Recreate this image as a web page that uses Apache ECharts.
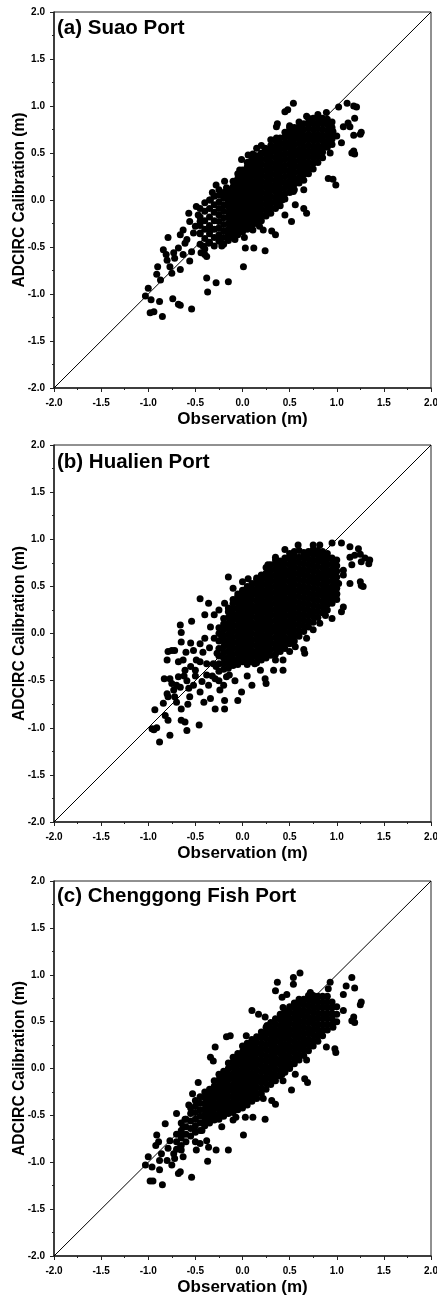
<!DOCTYPE html>
<html>
<head>
<meta charset="utf-8">
<title>ADCIRC calibration scatter</title>
<script src="https://cdn.jsdelivr.net/npm/echarts@6/dist/echarts.min.js"></script>
<style>
html, body { margin: 0; padding: 0; background: #fff; }
#main { width: 437px; height: 1297px; }
</style>
</head>
<body>
<div id="main"></div>
<script>
// axis ticks shared by all three panels
var tickMin = -2.0, tickMax = 2.0, tickStep = 0.5;
var panelTitles = ['(a) Suao Port', '(b) Hualien Port', '(c) Chenggong Fish Port'];
var xTitle = 'Observation (m)';
var yTitle = 'ADCIRC Calibration (m)';

// (a) Suao -- loose points [obs, calib]
var suaoScatter = [
  [-1.00,-0.94],[-1.03,-1.02],[-0.97,-1.06],[-0.98,-1.20],[-0.94,-1.19],[-0.85,-1.24],[-0.88,-1.08],[-0.91,-0.79],
  [-0.90,-0.71],[-0.87,-0.85],[-0.84,-0.53],[-0.81,-0.58],[-0.80,-0.64],[-0.79,-0.40],[-0.77,-0.71],[-0.75,-0.78],
  [-0.73,-0.56],[-0.72,-0.62],[-0.68,-0.51],[-0.66,-0.37],[-0.66,-0.74],[-0.63,-0.58],[-0.63,-0.32],[-0.61,-0.46],
  [-0.59,-0.42],[-0.57,-0.14],[-0.56,-0.23],[-0.56,-0.65],[-0.54,-0.55],[-0.52,-0.35],[-0.50,-0.28],[-0.49,-0.07],
  [-0.47,-0.16],[-0.45,-0.23],[-0.45,-0.35],[-0.44,-0.56],[-0.42,-0.49],[-0.40,-0.58],[-0.38,-0.60],[-0.36,-0.46],
  [-0.34,-0.32],[-0.34,0.00],[-0.32,0.08],[-0.28,0.16],[-0.24,-0.42],[-0.22,-0.49],[-0.19,0.20],[-0.17,0.13],
  [-0.13,0.07],[-0.10,-0.37],[-0.08,-0.42],[-0.03,0.32],[-0.01,0.43],[0.06,0.48],[0.11,0.49],[0.24,0.55],
  [0.22,-0.32],[0.11,-0.32],[0.31,-0.33],[0.35,-0.37],[0.03,-0.51],[0.12,-0.51],[0.24,-0.54],[0.01,-0.71],
  [-0.15,-0.87],[-0.38,-0.83],[-0.28,-0.88],[-0.37,-0.98],[-0.54,-1.16],[-0.68,-1.11],[-0.66,-1.12],[-0.74,-1.05],
  [0.45,-0.16],[0.52,-0.23],[0.56,-0.05],[0.65,-0.09],[0.68,-0.14],[0.42,0.00],[0.36,-0.03],
  [0.36,0.78],[0.37,0.81],[0.36,0.66],[0.45,0.94],[0.48,0.96],[0.54,1.03],[0.50,0.77],[0.57,0.71],
  [0.68,0.89],[0.80,0.91],[0.89,0.93],[1.02,0.99],[1.11,1.03],[1.18,1.00],[1.21,0.99],[1.19,0.87],
  [1.12,0.82],[1.07,0.78],[1.14,0.78],[1.26,0.72],[1.25,0.70],[1.18,0.69],[1.05,0.61],[1.16,0.50],
  [1.19,0.49],[1.18,0.52],[0.93,0.50],[0.91,0.23],[0.96,0.22],[0.99,0.16],[0.84,0.68],[0.96,0.73],
  [1.00,0.68],[0.88,0.57],[0.77,0.50],[0.65,0.39],[0.54,0.36],[0.65,0.11],[0.54,0.09],[0.36,0.14],[0.50,0.20],
  [0.15,0.55],[0.20,0.58],[0.30,0.64],[0.06,0.40],[-0.05,0.28],[-0.20,-0.47],[0.02,-0.40],[0.18,-0.28]
];
// (a) Suao -- dense band, one row per obs value: [obs, calib, calib, ...]
var suaoCore = [
  [-0.45,-0.47,-0.36,-0.27,-0.18,-0.09],
  [-0.40,-0.52,-0.41,-0.31,-0.22,-0.12,-0.03],
  [-0.35,-0.45,-0.36,-0.27,-0.18,-0.09,0.00],
  [-0.30,-0.49,-0.40,-0.31,-0.22,-0.13,-0.05,0.04],
  [-0.25,-0.44,-0.37,-0.30,-0.23,-0.16,-0.09,-0.02,0.05,0.11],
  [-0.20,-0.40,-0.33,-0.26,-0.19,-0.12,-0.05,0.02,0.08],
  [-0.15,-0.43,-0.37,-0.31,-0.25,-0.19,-0.13,-0.07,-0.01,0.05,0.11],
  [-0.10,-0.40,-0.34,-0.28,-0.22,-0.16,-0.10,-0.04,0.02,0.08,0.14,0.20],
  [-0.05,-0.37,-0.31,-0.25,-0.19,-0.13,-0.07,-0.01,0.05,0.11,0.17,0.23],
  [0.00,-0.34,-0.28,-0.22,-0.16,-0.10,-0.04,0.02,0.08,0.14,0.20,0.26,0.32],
  [0.05,-0.31,-0.25,-0.19,-0.13,-0.07,-0.01,0.05,0.11,0.17,0.23,0.29,0.35,0.40],
  [0.10,-0.28,-0.22,-0.16,-0.10,-0.04,0.02,0.08,0.14,0.20,0.26,0.32,0.38,0.44],
  [0.15,-0.25,-0.19,-0.13,-0.07,-0.01,0.05,0.11,0.17,0.23,0.29,0.35,0.41,0.47],
  [0.20,-0.22,-0.16,-0.10,-0.04,0.02,0.08,0.14,0.20,0.26,0.32,0.38,0.44,0.50],
  [0.25,-0.17,-0.11,-0.05,0.01,0.07,0.13,0.19,0.25,0.31,0.37,0.43,0.49,0.54],
  [0.30,-0.14,-0.08,-0.02,0.04,0.10,0.16,0.22,0.28,0.34,0.40,0.46,0.52,0.58],
  [0.35,-0.09,-0.03,0.03,0.09,0.15,0.21,0.27,0.33,0.39,0.45,0.51,0.57,0.63],
  [0.40,-0.06,0.00,0.06,0.12,0.18,0.24,0.30,0.36,0.42,0.48,0.54,0.60,0.66],
  [0.45,0.01,0.07,0.13,0.19,0.25,0.31,0.37,0.43,0.49,0.55,0.61,0.67,0.72],
  [0.50,0.08,0.14,0.20,0.26,0.32,0.38,0.44,0.50,0.56,0.62,0.68,0.74,0.79],
  [0.55,0.11,0.17,0.23,0.29,0.35,0.41,0.47,0.53,0.59,0.65,0.71,0.77],
  [0.60,0.18,0.24,0.30,0.36,0.42,0.48,0.54,0.60,0.66,0.72,0.78,0.83],
  [0.65,0.21,0.27,0.33,0.39,0.45,0.51,0.57,0.63,0.69,0.75,0.81],
  [0.70,0.28,0.34,0.40,0.46,0.52,0.58,0.64,0.70,0.76,0.82,0.87],
  [0.75,0.33,0.39,0.45,0.51,0.57,0.63,0.69,0.75,0.81,0.87],
  [0.80,0.40,0.46,0.52,0.58,0.64,0.70,0.76,0.82,0.88],
  [0.85,0.45,0.51,0.57,0.63,0.69,0.75,0.81,0.87],
  [0.90,0.56,0.62,0.68,0.74,0.80,0.86],
  [0.95,0.59,0.65,0.71,0.77,0.83]
];

// (b) Hualien -- loose points
var hualienScatter = [
  [-0.96,-1.01],[-0.94,-1.02],[-0.91,-1.00],[-0.88,-1.15],[-0.93,-0.81],[-0.84,-0.74],[-0.82,-0.87],[-0.77,-1.08],
  [-0.79,-0.92],[-0.83,-0.48],[-0.80,-0.64],[-0.79,-0.67],[-0.77,-0.48],[-0.75,-0.53],[-0.73,-0.60],[-0.72,-0.67],
  [-0.70,-0.73],[-0.80,-0.28],[-0.79,-0.19],[-0.75,-0.18],[-0.72,-0.18],[-0.68,-0.46],[-0.66,-0.57],[-0.65,-0.80],
  [-0.65,-0.92],[-0.61,-0.94],[-0.59,-1.03],[-0.46,-0.97],[-0.66,0.09],[-0.65,0.01],[-0.65,-0.09],[-0.63,-0.28],
  [-0.61,-0.39],[-0.59,-0.50],[-0.57,-0.58],[-0.56,-0.67],[-0.54,0.13],[-0.52,-0.18],[-0.50,-0.39],[-0.49,-0.28],
  [-0.45,0.37],[-0.45,-0.11],[-0.43,-0.51],[-0.41,-0.73],[-0.38,-0.44],[-0.36,0.32],[-0.34,-0.69],[-0.34,0.07],
  [-0.31,-0.32],[-0.29,-0.80],[-0.29,-0.48],[-0.27,-0.21],[-0.24,-0.60],[-0.22,-0.04],[-0.19,-0.80],[-0.19,-0.71],
  [-0.17,-0.46],[-0.15,0.60],[-0.19,0.32],[-0.13,0.23],[-0.05,-0.71],[-0.01,-0.62],[0.10,-0.55],[0.13,-0.32],
  [0.24,-0.48],[0.25,-0.53],[0.19,-0.39],[0.33,-0.39],[0.43,-0.39],[0.27,0.73],[0.06,0.58],[0.04,0.39],
  [0.15,0.57],[0.35,0.81],[0.45,0.89],[0.59,0.94],[0.70,0.87],[0.75,0.94],[0.82,0.94],[0.95,0.96],
  [1.05,0.96],[1.14,0.92],[1.23,0.90],[1.25,0.84],[1.19,0.83],[1.30,0.80],[1.35,0.78],[1.34,0.74],
  [1.26,0.76],[1.14,0.81],[1.16,0.73],[1.07,0.67],[1.07,0.62],[1.02,0.53],[1.14,0.53],[1.25,0.55],
  [1.26,0.51],[1.28,0.50],[1.07,0.28],[1.05,0.23],[0.95,0.16],[0.88,0.19],[0.82,0.11],[0.75,0.04],
  [0.68,-0.05],[0.65,-0.17],[0.66,-0.21],[0.56,-0.14],[0.50,-0.19],[0.43,-0.28],[0.35,-0.28],[1.00,0.42],[0.91,0.39],
  [-0.55,-0.35],[-0.50,-0.45],[-0.45,-0.30],[-0.42,-0.20],[-0.40,-0.05],[-0.38,-0.32],[-0.35,-0.15],[-0.32,-0.45],
  [-0.30,-0.05],[-0.28,-0.35],[-0.45,-0.62],[-0.60,-0.20],[-0.58,-0.75],[-0.52,-0.55],[-0.68,-0.30],[-0.70,-0.55],
  [-0.62,-0.45],[-0.36,-0.55],[-0.25,-0.50],[-0.20,-0.55],[-0.14,-0.44],[-0.08,-0.50],[0.05,-0.45],[-0.30,0.20],
  [-0.25,0.25],[-0.10,0.48],[0.00,0.55],[-0.55,-0.10],[-0.40,0.20]
];
// (b) Hualien -- dense cloud
var hualienCore = [
  [-0.25,-0.40,-0.32,-0.24,-0.16,-0.08,0.00,0.06],
  [-0.20,-0.38,-0.32,-0.26,-0.20,-0.14,-0.08,-0.02,0.04,0.10,0.16],
  [-0.15,-0.37,-0.31,-0.25,-0.19,-0.13,-0.07,-0.01,0.05,0.11,0.17,0.23,0.27],
  [-0.10,-0.34,-0.28,-0.22,-0.16,-0.10,-0.04,0.02,0.08,0.14,0.20,0.26,0.32,0.36],
  [-0.05,-0.33,-0.27,-0.21,-0.15,-0.09,-0.03,0.03,0.09,0.15,0.21,0.27,0.33,0.39,0.42],
  [0.00,-0.30,-0.24,-0.18,-0.12,-0.06,0.00,0.06,0.12,0.18,0.24,0.30,0.36,0.42,0.46],
  [0.05,-0.33,-0.27,-0.21,-0.15,-0.09,-0.03,0.03,0.09,0.15,0.21,0.27,0.33,0.39,0.45,0.50],
  [0.10,-0.30,-0.24,-0.18,-0.12,-0.06,0.00,0.06,0.12,0.18,0.24,0.30,0.36,0.42,0.48,0.53],
  [0.15,-0.31,-0.25,-0.19,-0.13,-0.07,-0.01,0.05,0.11,0.17,0.23,0.29,0.35,0.41,0.47,0.53,0.59],
  [0.20,-0.28,-0.22,-0.16,-0.10,-0.04,0.02,0.08,0.14,0.20,0.26,0.32,0.38,0.44,0.50,0.56,0.62],
  [0.25,-0.26,-0.20,-0.14,-0.08,-0.02,0.04,0.10,0.16,0.22,0.28,0.34,0.40,0.46,0.52,0.58,0.64,0.70],
  [0.30,-0.23,-0.17,-0.11,-0.05,0.01,0.07,0.13,0.19,0.25,0.31,0.37,0.43,0.49,0.55,0.61,0.67,0.73],
  [0.35,-0.22,-0.16,-0.10,-0.04,0.02,0.08,0.14,0.20,0.26,0.32,0.38,0.44,0.50,0.56,0.62,0.68,0.74,0.78],
  [0.40,-0.19,-0.13,-0.07,-0.01,0.05,0.11,0.17,0.23,0.29,0.35,0.41,0.47,0.53,0.59,0.65,0.71,0.77],
  [0.45,-0.16,-0.10,-0.04,0.02,0.08,0.14,0.20,0.26,0.32,0.38,0.44,0.50,0.56,0.62,0.68,0.74,0.80],
  [0.50,-0.11,-0.05,0.01,0.07,0.13,0.19,0.25,0.31,0.37,0.43,0.49,0.55,0.61,0.67,0.73,0.79,0.85],
  [0.55,-0.08,-0.02,0.04,0.10,0.16,0.22,0.28,0.34,0.40,0.46,0.52,0.58,0.64,0.70,0.76,0.82,0.87],
  [0.60,-0.03,0.03,0.09,0.15,0.21,0.27,0.33,0.39,0.45,0.51,0.57,0.63,0.69,0.75,0.81,0.88],
  [0.65,0.02,0.08,0.14,0.20,0.26,0.32,0.38,0.44,0.50,0.56,0.62,0.68,0.74,0.80,0.86],
  [0.70,0.07,0.13,0.19,0.25,0.31,0.37,0.43,0.49,0.55,0.61,0.67,0.73,0.79,0.85],
  [0.75,0.12,0.18,0.24,0.30,0.36,0.42,0.48,0.54,0.60,0.66,0.72,0.78,0.84,0.89],
  [0.80,0.17,0.23,0.29,0.35,0.41,0.47,0.53,0.59,0.65,0.71,0.77,0.83,0.88],
  [0.85,0.22,0.28,0.34,0.40,0.46,0.52,0.58,0.64,0.70,0.76,0.82,0.87],
  [0.90,0.25,0.31,0.37,0.43,0.49,0.55,0.61,0.67,0.73,0.79,0.85],
  [0.95,0.32,0.38,0.44,0.50,0.56,0.62,0.68,0.74,0.80],
  [1.00,0.36,0.42,0.48,0.54,0.60,0.66,0.72,0.78]
];

// (c) Chenggong -- loose points
var chenggongScatter = [
  [-1.03,-1.03],[-1.00,-0.94],[-0.96,-1.05],[-0.98,-1.20],[-0.95,-1.20],[-0.85,-1.24],[-0.88,-1.08],[-0.91,-0.71],
  [-0.89,-0.78],[-0.92,-0.82],[-0.86,-0.91],[-0.88,-0.98],[-0.82,-0.59],[-0.80,-0.98],[-0.79,-0.85],[-0.77,-0.77],
  [-0.75,-1.03],[-0.73,-0.91],[-0.72,-0.96],[-0.70,-0.48],[-0.68,-1.12],[-0.66,-1.10],[-0.66,-0.84],[-0.65,-0.87],
  [-0.63,-0.94],[-0.65,-0.71],[-0.63,-0.62],[-0.61,-0.54],[-0.57,-0.39],[-0.54,-1.16],[-0.53,-0.27],[-0.50,-0.78],
  [-0.49,-0.87],[-0.47,-0.15],[-0.45,-0.80],[-0.43,-0.66],[-0.41,-0.59],[-0.38,-0.77],[-0.36,-0.84],[-0.37,-0.99],
  [-0.34,0.12],[-0.31,0.08],[-0.29,0.23],[-0.28,-0.87],[-0.26,-0.52],[-0.22,-0.62],[-0.17,0.34],[-0.13,0.35],
  [-0.15,-0.87],[-0.10,-0.55],[-0.07,-0.52],[0.01,-0.71],[0.03,-0.52],[0.11,-0.52],[0.24,-0.54],[0.04,0.35],
  [0.10,0.62],[0.17,0.58],[0.12,0.28],[0.24,0.55],[0.26,0.46],[0.35,0.83],[0.37,0.92],[0.42,0.76],
  [0.47,0.79],[0.54,0.97],[0.61,1.02],[0.54,0.90],[0.43,0.65],[0.72,0.81],[0.77,0.76],[0.93,0.92],
  [0.91,0.85],[1.16,0.97],[1.10,0.88],[1.19,0.86],[1.26,0.71],[1.25,0.68],[1.07,0.79],[1.18,0.55],
  [1.19,0.49],[1.16,0.51],[1.07,0.62],[0.96,0.44],[0.89,0.23],[0.98,0.21],[0.99,0.17],[0.82,0.37],
  [0.65,0.28],[0.68,0.09],[0.66,-0.11],[0.69,-0.15],[0.52,-0.23],[0.56,-0.06],[0.43,-0.13],[0.35,-0.38],
  [0.31,-0.34],[0.22,-0.32],[0.42,-0.06],[0.50,0.01]
];
// (c) Chenggong -- dense band
var chenggongCore = [
  [-0.70,-0.86,-0.78,-0.70],
  [-0.65,-0.82,-0.74,-0.66,-0.58],
  [-0.60,-0.78,-0.70,-0.62,-0.54],
  [-0.55,-0.72,-0.64,-0.56,-0.48,-0.42],
  [-0.50,-0.68,-0.61,-0.54,-0.47,-0.40,-0.34],
  [-0.45,-0.66,-0.58,-0.51,-0.44,-0.37,-0.30],
  [-0.40,-0.61,-0.55,-0.49,-0.43,-0.37,-0.31,-0.25],
  [-0.35,-0.58,-0.52,-0.46,-0.40,-0.34,-0.28,-0.22],
  [-0.30,-0.55,-0.49,-0.43,-0.37,-0.31,-0.25,-0.19,-0.13],
  [-0.25,-0.54,-0.48,-0.42,-0.36,-0.30,-0.24,-0.18,-0.12,-0.06],
  [-0.20,-0.51,-0.45,-0.39,-0.33,-0.27,-0.21,-0.15,-0.09,-0.03],
  [-0.15,-0.48,-0.42,-0.36,-0.30,-0.24,-0.18,-0.12,-0.06,0.00,0.06],
  [-0.10,-0.47,-0.41,-0.35,-0.29,-0.23,-0.17,-0.11,-0.05,0.01,0.07,0.12],
  [-0.05,-0.44,-0.38,-0.32,-0.26,-0.20,-0.14,-0.08,-0.02,0.04,0.10,0.16],
  [0.00,-0.42,-0.36,-0.30,-0.24,-0.18,-0.12,-0.06,0.00,0.06,0.12,0.18,0.24],
  [0.05,-0.39,-0.33,-0.27,-0.21,-0.15,-0.09,-0.03,0.03,0.09,0.15,0.21,0.27],
  [0.10,-0.35,-0.29,-0.23,-0.17,-0.11,-0.05,0.01,0.07,0.13,0.19,0.25,0.31],
  [0.15,-0.32,-0.26,-0.20,-0.14,-0.08,-0.02,0.04,0.10,0.16,0.22,0.28,0.34],
  [0.20,-0.27,-0.21,-0.15,-0.09,-0.03,0.03,0.09,0.15,0.21,0.27,0.33,0.39],
  [0.25,-0.22,-0.16,-0.10,-0.04,0.02,0.08,0.14,0.20,0.26,0.32,0.38,0.44],
  [0.30,-0.17,-0.11,-0.05,0.01,0.07,0.13,0.19,0.25,0.31,0.37,0.43,0.49],
  [0.35,-0.13,-0.07,-0.01,0.05,0.11,0.17,0.23,0.29,0.35,0.41,0.47,0.53],
  [0.40,-0.08,-0.02,0.04,0.10,0.16,0.22,0.28,0.34,0.40,0.46,0.52,0.58],
  [0.45,-0.04,0.02,0.08,0.14,0.20,0.26,0.32,0.38,0.44,0.50,0.56,0.62],
  [0.50,0.00,0.06,0.12,0.18,0.24,0.30,0.36,0.42,0.48,0.54,0.60,0.66],
  [0.55,0.05,0.11,0.17,0.23,0.29,0.35,0.41,0.47,0.53,0.59,0.65,0.70],
  [0.60,0.09,0.15,0.21,0.27,0.33,0.39,0.45,0.51,0.57,0.63,0.69,0.74],
  [0.65,0.14,0.20,0.26,0.32,0.38,0.44,0.50,0.56,0.62,0.68,0.74],
  [0.70,0.19,0.25,0.31,0.37,0.43,0.49,0.55,0.61,0.67,0.73,0.78],
  [0.75,0.24,0.30,0.36,0.42,0.48,0.54,0.60,0.66,0.72,0.78],
  [0.80,0.29,0.35,0.41,0.47,0.53,0.59,0.65,0.71,0.77],
  [0.85,0.35,0.41,0.47,0.53,0.59,0.65,0.71,0.77],
  [0.90,0.41,0.47,0.53,0.59,0.65,0.71,0.77],
  [0.95,0.47,0.53,0.59,0.65,0.71],
  [1.00,0.50,0.58,0.66]
];

// 1:1 reference line
var oneToOne = [[-2, -2], [2, 2]];

// grid boxes in px
var panels = [
  { left: 54, top: 12, width: 377, height: 376, titleTop: 18 },
  { left: 54, top: 445, width: 377, height: 377, titleTop: 452 },
  { left: 54, top: 881, width: 377, height: 375, titleTop: 886 }
];

function toPoints(loose, core) {
  var pts = loose.slice();
  core.forEach(function(row) {
    for (var i = 1; i < row.length; i++) pts.push([row[0], row[i]]);
  });
  return pts;
}

var panelData = [
  toPoints(suaoScatter, suaoCore),
  toPoints(hualienScatter, hualienCore),
  toPoints(chenggongScatter, chenggongCore)
];

var font = 'Liberation Sans, Arial, sans-serif';
var axisColor = '#222';

function axisCommon(i, name, gap, nameSize) {
  return {
    type: 'value',
    gridIndex: i,
    min: tickMin,
    max: tickMax,
    interval: tickStep,
    name: name,
    nameLocation: 'middle',
    nameGap: gap,
    nameMoveOverlap: false,
    nameTextStyle: { fontFamily: font, fontWeight: 'bold', fontSize: nameSize, color: '#000' },
    axisLine: { show: true, onZero: false, lineStyle: { color: axisColor, width: 1.5 } },
    axisTick: { show: true, inside: false, length: 4, lineStyle: { color: axisColor, width: 1 } },
    minorTick: { show: true, splitNumber: 2, length: 2, lineStyle: { color: axisColor, width: 1 } },
    splitLine: { show: false },
    axisLabel: {
      fontFamily: font, fontWeight: 'bold', fontSize: 10, color: '#000',
      showMinLabel: true, showMaxLabel: true,
      formatter: function(v) { return v.toFixed(1); }
    }
  };
}

var grids = [], xAxes = [], yAxes = [], titles = [], series = [];
panels.forEach(function(p, i) {
  grids.push({
    left: p.left, top: p.top, width: p.width, height: p.height,
    outerBoundsMode: 'none', containLabel: false,
    show: true, borderColor: axisColor, borderWidth: 1, backgroundColor: 'transparent'
  });
  var xa = axisCommon(i, xTitle, 23, 17);
  xa.axisLabel.margin = 10;
  xAxes.push(xa);
  var ya = axisCommon(i, yTitle, 26, 15.6);
  ya.axisLabel.margin = 9;
  yAxes.push(ya);
  titles.push({
    text: panelTitles[i],
    left: p.left + 3,
    top: p.titleTop,
    padding: 0,
    textStyle: { fontFamily: font, fontWeight: 'bold', fontSize: 20.5, color: '#000' }
  });
  series.push({
    type: 'line',
    xAxisIndex: i, yAxisIndex: i,
    data: oneToOne,
    symbol: 'none',
    silent: true,
    animation: false,
    lineStyle: { color: '#000', width: 1 },
    z: 1
  });
  series.push({
    type: 'scatter',
    xAxisIndex: i, yAxisIndex: i,
    data: panelData[i],
    symbol: 'circle',
    symbolSize: 7,
    itemStyle: { color: '#000', opacity: 1 },
    animation: false,
    z: 2
  });
});

var chart = echarts.init(document.getElementById('main'), null, { renderer: 'canvas' });
chart.setOption({
  backgroundColor: '#fff',
  animation: false,
  title: titles,
  grid: grids,
  xAxis: xAxes,
  yAxis: yAxes,
  series: series
});
</script>
</body>
</html>
